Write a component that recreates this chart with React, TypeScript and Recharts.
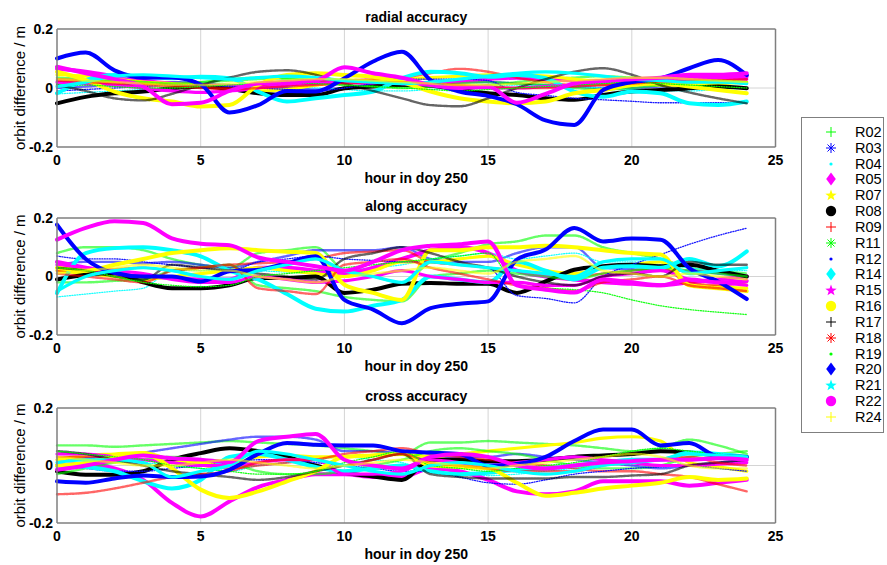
import React from 'react'
import { LineChart, Line, XAxis, YAxis, ReferenceLine } from 'recharts'

const HOURS = [0, 1, 2, 3, 4, 5, 6, 7, 8, 9, 10, 11, 12, 13, 14, 15, 16, 17, 18, 19, 20, 21, 22, 23, 24]
const X_TICKS = [0, 5, 10, 15, 20, 25]
const Y_TICKS = [-0.2, 0, 0.2]
const GRID_X = [5, 10, 15, 20]

const SATS = ['R02', 'R03', 'R04', 'R05', 'R07', 'R08', 'R09', 'R11', 'R12', 'R14', 'R15', 'R16', 'R17', 'R18', 'R19', 'R20', 'R21', 'R22', 'R24']
const COLORS = ['#00ff00', '#0000ff', '#00ffff', '#ff00ff', '#ffff00', '#000000', '#ff0000', '#00ff00', '#0000ff', '#00ffff', '#ff00ff', '#ffff00', '#000000', '#ff0000', '#00ff00', '#0000ff', '#00ffff', '#ff00ff', '#ffff00']
const MARKERS = ['+', '*', '.', 'd', 'p', 'o', '+', '*', '.', 'd', 'p', 'o', '+', '*', '.', 'd', 'p', 'o', '+']

// radial (m), one value per hour
const radR02 = [0.035, 0.03, 0.025, 0.02, 0.018,  0.02, 0.025, 0.03, 0.035, 0.03,  0.025, 0.02, 0.015, 0.01, 0.005,  0.01, 0.02, 0.03, 0.035, 0.04,  0.035, 0.03, 0.025, 0.02, 0.015]
const radR03 = [0.0, 0.005, 0.01, 0.015, 0.02,  0.015, 0.01, 0.005, 0.0, -0.005,  0.0, 0.005, 0.01, 0.015, 0.02,  0.02, 0.015, 0.01, 0.005, 0.0,  0.0, 0.005, 0.01, 0.015, 0.02]
const radR04 = [-0.02, -0.015, -0.01, -0.005, 0.0,  0.005, 0.01, 0.01, 0.005, 0.0,  -0.005, -0.01, -0.01, -0.005, 0.0,  0.005, 0.01, 0.01, 0.005, 0.0,  -0.005, -0.01, -0.01, -0.005, 0.0]
const radR05 = [0.065, 0.055, 0.04, 0.025, 0.015,  0.01, 0.005, 0.01, 0.02, 0.025,  0.02, 0.015, 0.01, 0.015, 0.02,  0.03, 0.035, 0.03, 0.025, 0.02,  0.02, 0.025, 0.03, 0.035, 0.04]
const radR07 = [0.045, 0.04, 0.03, 0.02, 0.015,  0.01, 0.0, -0.01, -0.005, 0.01,  0.02, 0.025, 0.03, 0.035, 0.04,  0.045, 0.045, 0.04, 0.03, 0.02,  0.015, 0.01, 0.01, 0.015, 0.02]
const radR08 = [-0.052, -0.03, -0.018, -0.012, -0.001,  0.005, -0.003, -0.018, -0.024, -0.024,  -0.001, 0.005, 0.01, 0.008, -0.007,  -0.018, -0.024, -0.035, -0.04, -0.024,  -0.012, -0.007, -0.001, 0.005, -0.001]
const radR09 = [0.03, 0.025, 0.02, 0.015, 0.01,  0.005, 0.0, 0.005, 0.01, 0.02,  0.025, 0.03, 0.035, 0.05, 0.065,  0.055, 0.035, 0.02, 0.01, 0.01,  0.015, 0.02, 0.025, 0.03, 0.03]
const radR11 = [0.015, 0.02, 0.025, 0.02, 0.015,  0.02, 0.03, 0.035, 0.03, 0.02,  0.01, 0.005, 0.0, 0.005, 0.015,  0.02, 0.015, 0.01, 0.0, -0.005,  0.0, 0.01, 0.02, 0.025, 0.02]
const radR12 = [-0.01, -0.005, 0.0, 0.005, 0.01,  0.01, 0.005, 0.0, -0.005, -0.01,  0.0, 0.015, 0.03, 0.03, 0.03,  0.025, -0.015, -0.025, -0.035, -0.04,  -0.045, -0.05, -0.05, -0.05, -0.05]
const radR14 = [-0.018, 0.027, 0.044, 0.038, 0.033,  0.038, 0.033, -0.012, -0.046, -0.035,  -0.024, -0.012, 0.033, 0.055, 0.05,  0.038, 0.044, 0.033, -0.012, -0.03,  -0.012, -0.018, -0.052, -0.058, -0.046]
const radR15 = [0.02, 0.015, 0.01, 0.0, -0.01,  -0.015, -0.01, 0.0, 0.01, 0.015,  0.02, 0.02, 0.015, 0.01, 0.005,  0.0, 0.0, 0.005, 0.01, 0.02,  0.025, 0.03, 0.035, 0.035, 0.03]
const radR16 = [0.055, 0.027, -0.012, -0.035, -0.046,  -0.063, -0.058, 0.01, 0.044, 0.05,  0.044, 0.038, 0.02, -0.012, -0.035,  -0.046, -0.052, -0.046, -0.018, -0.007,  0.01, 0.016, 0.005, -0.007, -0.018]
const radR17 = [0.01, -0.01, -0.035, -0.042, -0.02,  0.01, 0.035, 0.055, 0.06, 0.045,  0.015, -0.01, -0.035, -0.058, -0.062,  -0.035, 0.0, 0.03, 0.055, 0.067,  0.045, 0.01, -0.015, -0.035, -0.052]
const radR18 = [0.025, 0.02, 0.015, 0.01, 0.005,  0.0, -0.005, 0.0, 0.005, 0.01,  0.015, 0.02, 0.02, 0.015, 0.01,  0.005, 0.0, 0.0, 0.005, 0.01,  0.015, 0.02, 0.02, 0.025, 0.03]
const radR19 = [0.01, 0.01, 0.005, 0.0, 0.0,  0.005, 0.01, 0.015, 0.02, 0.015,  0.01, 0.005, 0.0, -0.005, -0.01,  -0.005, 0.0, 0.005, 0.01, 0.015,  0.02, 0.015, 0.01, 0.005, 0.0]
const radR20 = [0.1, 0.12, 0.06, 0.035, 0.036,  0.012, -0.083, -0.058, -0.01, -0.012,  0.033, 0.09, 0.123, 0.027, -0.012,  -0.027, -0.055, -0.11, -0.125, -0.007,  0.02, 0.033, 0.067, 0.095, 0.044]
const radR21 = [0.005, 0.02, 0.04, 0.045, 0.04,  0.035, 0.03, 0.035, 0.04, 0.035,  0.025, 0.02, 0.015, 0.02, 0.03,  0.04, 0.05, 0.055, 0.05, 0.04,  0.03, 0.025, 0.02, 0.02, 0.015]
const radR22 = [0.072, 0.05, 0.03, 0.005, -0.055,  -0.05, -0.01, 0.015, 0.02, 0.025,  0.07, 0.05, 0.035, 0.01, 0.0,  0.005, -0.05, -0.02, 0.015, 0.025,  0.03, 0.035, 0.045, 0.045, 0.05]
const radR24 = [0.03, 0.025, 0.02, 0.015, 0.01,  0.01, 0.015, 0.02, 0.025, 0.03,  0.03, 0.025, 0.02, 0.015, 0.01,  0.01, 0.015, 0.02, 0.025, 0.03,  0.035, 0.035, 0.03, 0.025, 0.02]

// along-track (m)
const alR02 = [0.08, 0.1, 0.1, 0.09, 0.06,  0.04, 0.03, 0.08, 0.09, 0.1,  0.02, 0.0, -0.02, 0.05, 0.08,  0.11, 0.12, 0.14, 0.14, 0.1,  0.08, 0.06, 0.03, 0.02, 0.01]
const alR03 = [0.04, 0.05, 0.05, 0.045, 0.05,  0.04, 0.03, 0.05, 0.07, 0.09,  0.09, 0.09, 0.1, 0.06, 0.05,  0.05, 0.08, 0.1, 0.1, 0.03,  0.025, 0.02, 0.02, 0.01, 0.0]
const alR04 = [-0.07, -0.06, -0.05, -0.04, 0.02,  0.02, 0.025, 0.02, 0.015, 0.01,  0.02, 0.03, 0.04, 0.06, 0.07,  0.08, 0.06, 0.07, 0.08, 0.05,  0.05, 0.04, 0.03, 0.02, 0.02]
const alR05 = [0.05, 0.03, 0.01, 0.0, -0.005,  -0.01, -0.01, 0.03, 0.03, 0.02,  0.01, 0.03, 0.06, 0.09, 0.1,  0.08, 0.02, 0.0, -0.01, -0.02,  -0.025, -0.03, -0.02, -0.01, 0.0]
const alR07 = [0.02, 0.01, 0.0, -0.01, 0.0,  0.01, 0.02, 0.03, 0.02, 0.01,  0.0, 0.02, 0.05, 0.05, 0.06,  0.07, 0.04, 0.02, 0.01, 0.03,  0.04, 0.05, -0.03, -0.035, -0.04]
const alR08 = [-0.01, 0.006, 0.012, -0.02, -0.04,  -0.04, -0.03, -0.005, -0.005, 0.0,  -0.056, -0.045, -0.025, -0.022, -0.025,  -0.025, -0.056, -0.017, 0.023, 0.035,  0.04, 0.035, 0.04, 0.02, 0.0]
const alR09 = [0.02, 0.02, 0.025, 0.03, 0.02,  0.03, 0.04, 0.045, 0.05, 0.06,  0.08, 0.085, 0.09, 0.05, 0.04,  0.03, 0.02, 0.01, 0.0, 0.01,  0.02, 0.03, -0.02, -0.03, -0.02]
const alR11 = [-0.02, -0.02, -0.015, -0.01, 0.02,  0.03, 0.04, -0.03, -0.04, -0.05,  -0.07, -0.08, -0.085, 0.0, 0.01,  0.02, 0.01, 0.0, -0.01, 0.01,  0.02, 0.03, 0.02, 0.01, 0.0]
const alR12 = [0.07, 0.06, 0.06, 0.05, 0.04,  0.03, 0.02, 0.05, 0.06, 0.07,  0.06, 0.055, 0.05, 0.05, 0.04,  0.03, -0.065, -0.075, -0.09, 0.0,  0.04, 0.075, 0.11, 0.14, 0.165]
const alR14 = [-0.057, 0.08, 0.097, 0.1, 0.09,  0.069, 0.02, -0.01, -0.06, -0.11,  -0.12, -0.1, -0.08, 0.0, -0.01,  -0.02, 0.05, 0.02, -0.01, 0.03,  0.035, 0.03, 0.06, 0.035, 0.086]
const alR15 = [0.04, 0.03, 0.02, 0.01, -0.01,  -0.02, -0.02, 0.0, -0.01, -0.02,  -0.015, 0.0, 0.02, 0.0, -0.01,  -0.02, -0.02, -0.03, -0.03, 0.0,  0.01, 0.02, -0.01, -0.02, -0.03]
const alR16 = [0.03, 0.02, 0.04, 0.06, 0.08,  0.09, 0.097, 0.09, 0.085, 0.08,  -0.028, -0.056, -0.08, 0.09, 0.09,  0.1, 0.1, 0.105, 0.1, 0.09,  0.08, 0.075, -0.03, -0.04, -0.05]
const alR17 = [0.03, 0.02, 0.0, -0.01, 0.04,  0.03, 0.02, 0.01, 0.0, -0.01,  0.06, 0.08, 0.1, 0.08, 0.05,  0.03, 0.0, -0.02, -0.03, 0.0,  0.01, 0.0, 0.05, 0.04, 0.04]
const alR18 = [0.01, 0.0, -0.01, -0.02, 0.02,  0.03, 0.04, -0.04, -0.05, -0.06,  0.04, 0.05, 0.06, 0.03, 0.01,  -0.01, -0.03, -0.04, -0.05, -0.02,  -0.01, 0.0, -0.03, -0.04, -0.05]
const alR19 = [0.03, 0.02, 0.0, -0.02, -0.03,  -0.035, -0.03, 0.0, 0.01, 0.02,  0.03, 0.04, 0.05, 0.06, 0.07,  0.08, -0.03, -0.04, -0.045, -0.056,  -0.08, -0.1, -0.113, -0.122, -0.13]
const alR20 = [0.177, 0.06, 0.012, 0.0, 0.0,  -0.017, 0.018, 0.023, 0.046, 0.069,  -0.08, -0.113, -0.16, -0.108, -0.093,  -0.085, 0.058, 0.092, 0.166, 0.12,  0.13, 0.126, 0.029, -0.017, -0.077]
const alR21 = [-0.05, 0.0, 0.02, 0.03, 0.02,  0.0, -0.01, 0.02, 0.04, 0.06,  0.02, 0.0, -0.02, 0.05, 0.04,  0.03, 0.02, 0.01, 0.0, 0.05,  0.06, 0.06, 0.01, 0.02, 0.03]
const alR22 = [0.126, 0.166, 0.189, 0.183, 0.13,  0.112, 0.107, 0.065, 0.05, 0.035,  0.02, 0.05, 0.09, 0.105, 0.11,  0.12, -0.03, -0.045, -0.055, -0.01,  -0.02, -0.03, -0.01, -0.02, -0.015]
const alR24 = [0.01, 0.02, 0.03, 0.04, 0.03,  0.02, 0.02, 0.0, -0.01, -0.02,  0.0, 0.01, 0.02, 0.03, 0.02,  0.01, 0.05, 0.06, 0.07, 0.02,  0.01, 0.0, 0.01, 0.0, -0.01]

// cross-track (m)
const crR02 = [0.07, 0.07, 0.065, 0.07, 0.075,  0.08, 0.085, 0.08, 0.075, 0.07,  0.06, 0.05, 0.04, 0.08, 0.08,  0.085, 0.08, 0.075, 0.07, 0.06,  0.05, 0.06, 0.09, 0.07, 0.04]
const crR03 = [0.02, 0.025, 0.035, 0.045, 0.06,  0.075, 0.09, 0.1, 0.1, 0.09,  0.05, 0.05, 0.04, 0.02, 0.03,  0.03, 0.04, 0.03, 0.02, 0.01,  0.0, -0.01, 0.0, 0.01, 0.02]
const crR04 = [0.02, 0.02, 0.015, 0.01, 0.0,  -0.01, -0.02, 0.0, 0.01, 0.02,  0.03, 0.02, 0.01, -0.02, -0.03,  -0.035, -0.03, -0.02, -0.01, 0.0,  0.01, 0.02, 0.0, -0.01, -0.02]
const crR05 = [0.0, 0.005, -0.01, -0.05, -0.13,  -0.177, -0.125, -0.075, -0.05, -0.03,  -0.03, -0.04, -0.04, -0.01, -0.02,  -0.05, -0.09, -0.1, -0.09, -0.055,  -0.055, -0.055, -0.07, -0.06, -0.05]
const crR07 = [0.02, 0.035, 0.04, 0.045, 0.02,  0.01, 0.005, 0.03, 0.035, 0.03,  0.03, 0.035, 0.04, 0.03, 0.04,  0.05, 0.06, 0.07, 0.08, 0.095,  0.1, 0.085, 0.01, -0.005, -0.02]
const crR08 = [-0.02, -0.032, -0.032, -0.02, 0.02,  0.043, 0.06, 0.05, 0.03, 0.0,  -0.025, -0.038, -0.05, 0.02, 0.02,  0.015, 0.015, 0.02, 0.03, 0.035,  0.04, 0.05, 0.045, 0.035, 0.03]
const crR09 = [0.03, 0.03, 0.025, 0.02, 0.01,  0.0, -0.01, 0.0, 0.01, 0.02,  0.04, 0.05, 0.06, 0.04, 0.03,  0.02, 0.01, 0.0, -0.01, -0.02,  -0.02, -0.03, -0.04, -0.065, -0.09]
const crR11 = [-0.03, -0.01, 0.01, 0.02, 0.03,  0.02, 0.01, -0.02, -0.03, -0.03,  -0.02, 0.0, 0.02, 0.05, 0.06,  0.05, 0.04, 0.02, 0.0, -0.01,  -0.01, 0.0, 0.03, 0.04, 0.05]
const crR12 = [0.0, -0.01, -0.02, -0.02, -0.01,  0.0, 0.01, 0.02, 0.02, 0.01,  0.0, -0.01, -0.02, -0.02, -0.04,  -0.06, -0.065, -0.05, -0.03, -0.02,  -0.01, -0.005, 0.0, -0.01, -0.02]
const crR14 = [0.0, -0.005, -0.02, -0.055, -0.08,  -0.05, 0.03, 0.04, 0.02, -0.005,  -0.02, -0.01, 0.0, -0.02, -0.03,  -0.025, -0.015, -0.01, 0.0, 0.01,  0.02, 0.02, 0.045, 0.04, 0.03]
const crR15 = [0.04, 0.04, 0.03, 0.02, 0.01,  0.0, 0.0, 0.01, 0.02, 0.02,  -0.03, -0.03, -0.02, 0.02, 0.01,  0.0, 0.01, 0.02, 0.03, 0.02,  0.01, 0.0, 0.0, 0.005, 0.01]
const crR16 = [0.0, 0.01, 0.03, 0.043, -0.01,  -0.084, -0.113, -0.09, -0.055, -0.02,  0.03, 0.035, 0.04, 0.0, -0.005,  -0.01, -0.06, -0.105, -0.095, -0.08,  -0.07, -0.06, -0.04, -0.05, -0.045]
const crR17 = [0.05, 0.04, 0.02, 0.0, -0.02,  -0.03, -0.04, -0.05, -0.04, -0.02,  0.0, 0.02, 0.04, -0.03, -0.04,  -0.045, -0.045, -0.045, -0.04, -0.04,  -0.035, -0.03, 0.0, 0.01, 0.02]
const crR18 = [-0.1, -0.095, -0.08, -0.06, -0.04,  -0.03, -0.02, 0.01, 0.02, 0.02,  0.0, 0.02, 0.04, 0.01, 0.0,  -0.01, -0.02, -0.02, -0.02, 0.0,  0.01, 0.02, 0.03, 0.01, 0.0]
const crR19 = [0.05, 0.04, 0.03, 0.02, 0.0,  -0.01, -0.02, -0.03, -0.03, -0.02,  0.01, 0.03, 0.05, 0.0, -0.01,  -0.02, -0.01, 0.0, 0.01, 0.03,  0.05, 0.06, 0.05, 0.04, 0.03]
const crR20 = [-0.055, -0.06, -0.045, -0.035, -0.04,  -0.038, -0.015, 0.04, 0.078, 0.072,  0.07, 0.07, 0.05, 0.045, 0.04,  0.0, 0.005, 0.03, 0.085, 0.125,  0.125, 0.07, 0.078, 0.032, 0.03]
const crR21 = [0.01, 0.02, 0.02, 0.01, -0.04,  -0.02, 0.0, 0.05, 0.04, 0.02,  0.0, -0.02, -0.03, 0.0, 0.01,  0.0, -0.02, -0.03, -0.02, 0.0,  0.01, 0.02, 0.04, 0.035, 0.03]
const crR22 = [-0.015, 0.0, 0.02, 0.035, 0.025,  0.02, 0.012, 0.085, 0.1, 0.11,  0.02, 0.0, -0.01, 0.03, 0.04,  0.03, 0.0, -0.01, 0.0, 0.01,  0.015, 0.02, 0.02, 0.025, 0.02]
const crR24 = [0.03, 0.02, 0.01, 0.0, 0.0,  0.01, 0.02, 0.01, 0.0, -0.01,  0.0, 0.01, 0.02, 0.01, 0.0,  -0.01, 0.0, 0.01, 0.02, 0.03,  0.04, 0.03, 0.0, -0.01, -0.01]

const FRAME = '#7f7f7f'
const GRID = '#d4d4d4'
const FONT = "'Liberation Sans', Arial, Helvetica, sans-serif"

function buildRows(series: Record<string, number[]>) {
  return HOURS.map((h, i) => {
    const row: Record<string, number> = { h }
    SATS.forEach((s) => {
      row[s] = series[s][i]
    })
    return row
  })
}

const radialRows = buildRows({
  R02: radR02, R03: radR03, R04: radR04, R05: radR05, R07: radR07, R08: radR08, R09: radR09,
  R11: radR11, R12: radR12, R14: radR14, R15: radR15, R16: radR16, R17: radR17, R18: radR18,
  R19: radR19, R20: radR20, R21: radR21, R22: radR22, R24: radR24,
})
const alongRows = buildRows({
  R02: alR02, R03: alR03, R04: alR04, R05: alR05, R07: alR07, R08: alR08, R09: alR09,
  R11: alR11, R12: alR12, R14: alR14, R15: alR15, R16: alR16, R17: alR17, R18: alR18,
  R19: alR19, R20: alR20, R21: alR21, R22: alR22, R24: alR24,
})
const crossRows = buildRows({
  R02: crR02, R03: crR03, R04: crR04, R05: crR05, R07: crR07, R08: crR08, R09: crR09,
  R11: crR11, R12: crR12, R14: crR14, R15: crR15, R16: crR16, R17: crR17, R18: crR18,
  R19: crR19, R20: crR20, R21: crR21, R22: crR22, R24: crR24,
})

// how each matlab marker type looks when drawn densely along a line
function lineStyle(marker: string) {
  if (marker === 'd' || marker === 'o') return { strokeWidth: 4, strokeOpacity: 1 }
  if (marker === 'p') return { strokeWidth: 3.2, strokeOpacity: 1 }
  if (marker === '.') return { strokeWidth: 1.3, strokeOpacity: 0.9, strokeDasharray: '1 1.5' }
  return { strokeWidth: 2.4, strokeOpacity: 0.6, strokeDasharray: '2 1' }
}

const tickFont = { fill: '#000', fontSize: 14, fontWeight: 700 }

interface PanelProps {
  title: string
  rows: Record<string, number>[]
  top: number
  height: number
  marginTop: number
  marginBottom: number
}

function Panel({ title, rows, top, height, marginTop, marginBottom }: PanelProps) {
  return (
    <div style={{ position: 'absolute', left: 0, top }}>
      <LineChart width={887} height={height} data={rows} margin={{ top: marginTop, right: 111.5, bottom: marginBottom, left: 12 }}>
        <XAxis
          xAxisId="x"
          dataKey="h"
          type="number"
          domain={[0, 25]}
          ticks={X_TICKS}
          interval={0}
          height={40}
          tickSize={0}
          tickMargin={8}
          tickLine={false}
          axisLine={{ stroke: FRAME, strokeWidth: 1.5 }}
          tick={tickFont}
          label={{ value: 'hour in doy 250', position: 'insideBottom', offset: 4.5, fill: '#000', fontSize: 14, fontWeight: 700 }}
        />
        <XAxis xAxisId="xIn" dataKey="h" type="number" domain={[0, 25]} ticks={X_TICKS} interval={0} mirror tick={false} axisLine={false} tickSize={5} tickLine={{ stroke: FRAME }} />
        <XAxis xAxisId="xTop" orientation="top" dataKey="h" type="number" domain={[0, 25]} ticks={X_TICKS} interval={0} mirror tick={false} tickSize={5} tickLine={{ stroke: FRAME }} axisLine={{ stroke: FRAME, strokeWidth: 1.5 }} />
        <YAxis
          yAxisId="y"
          type="number"
          domain={[-0.2, 0.2]}
          ticks={Y_TICKS}
          interval={0}
          width={45}
          tickSize={0}
          tickMargin={4}
          tickLine={false}
          axisLine={{ stroke: FRAME, strokeWidth: 1.5 }}
          tick={tickFont}
          label={{ value: 'orbit difference / m', angle: -90, position: 'insideLeft', offset: 8, fill: '#000', fontSize: 15, style: { textAnchor: 'middle' } }}
        />
        <YAxis yAxisId="yIn" type="number" domain={[-0.2, 0.2]} ticks={Y_TICKS} interval={0} mirror tick={false} axisLine={false} tickSize={5} tickLine={{ stroke: FRAME }} />
        <YAxis yAxisId="yRight" orientation="right" type="number" domain={[-0.2, 0.2]} ticks={Y_TICKS} interval={0} mirror tick={false} tickSize={5} tickLine={{ stroke: FRAME }} axisLine={{ stroke: FRAME, strokeWidth: 1.5 }} />
        {GRID_X.map((v) => (
          <ReferenceLine key={v} xAxisId="x" yAxisId="y" x={v} stroke={GRID} />
        ))}
        <ReferenceLine xAxisId="x" yAxisId="y" y={0} stroke={GRID} />
        <ReferenceLine
          xAxisId="x"
          yAxisId="y"
          y={0.2}
          stroke="none"
          label={{ value: title, position: 'top', offset: 7.5, fill: '#000', fontSize: 14, fontWeight: 700 }}
        />
        {SATS.map((s, i) => (
          <Line
            key={s}
            xAxisId="x"
            yAxisId="y"
            dataKey={s}
            type="monotone"
            stroke={COLORS[i]}
            {...lineStyle(MARKERS[i])}
            strokeLinecap="round"
            dot={false}
            activeDot={false}
            isAnimationActive={false}
          />
        ))}
      </LineChart>
    </div>
  )
}

function Marker({ type, color }: { type: string; color: string }) {
  const c = 8
  if (type === '+') {
    return (
      <g stroke={color} strokeWidth={1}>
        <line x1={c - 5} y1={c} x2={c + 5} y2={c} />
        <line x1={c} y1={c - 5} x2={c} y2={c + 5} />
      </g>
    )
  }
  if (type === '*') {
    return (
      <g stroke={color} strokeWidth={1}>
        <line x1={c - 5} y1={c} x2={c + 5} y2={c} />
        <line x1={c} y1={c - 5} x2={c} y2={c + 5} />
        <line x1={c - 3.5} y1={c - 3.5} x2={c + 3.5} y2={c + 3.5} />
        <line x1={c - 3.5} y1={c + 3.5} x2={c + 3.5} y2={c - 3.5} />
      </g>
    )
  }
  if (type === '.') return <circle cx={c} cy={c} r={1.6} fill={color} />
  if (type === 'o') return <circle cx={c} cy={c} r={5.2} fill={color} />
  if (type === 'd') {
    return <polygon points={`${c},${c - 6.5} ${c + 4.8},${c} ${c},${c + 6.5} ${c - 4.8},${c}`} fill={color} />
  }
  const pts: string[] = []
  for (let k = 0; k < 10; k++) {
    const a = (-90 + k * 36) * (Math.PI / 180)
    const r = k % 2 === 0 ? 6 : 2.4
    pts.push(`${c + r * Math.cos(a)},${c + 0.5 + r * Math.sin(a)}`)
  }
  return <polygon points={pts.join(' ')} fill={color} />
}

function LegendBox() {
  return (
    <div
      style={{
        position: 'absolute',
        left: 801,
        top: 117,
        width: 83,
        height: 316,
        border: `1px solid ${FRAME}`,
        background: '#fff',
        boxSizing: 'border-box',
      }}
    >
      {SATS.map((s, i) => {
        const cy = 14 + i * 15.83
        return (
          <div key={s} style={{ position: 'absolute', left: 0, top: cy - 8, width: 83, height: 16 }}>
            <svg width={16} height={16} style={{ position: 'absolute', left: 21, top: 0 }}>
              <Marker type={MARKERS[i]} color={COLORS[i]} />
            </svg>
            <span style={{ position: 'absolute', left: 53, top: 0, lineHeight: '16px', fontSize: 14.5, color: '#000' }}>{s}</span>
          </div>
        )
      })}
    </div>
  )
}

export default function App() {
  return (
    <div style={{ position: 'relative', width: 887, height: 565, background: '#fff', fontFamily: FONT, overflow: 'hidden' }}>
      <style>{'body{margin:0}'}</style>
      <Panel title="radial accuracy" rows={radialRows} top={0} height={190} marginTop={29} marginBottom={3} />
      <Panel title="along accuracy" rows={alongRows} top={190} height={190} marginTop={28} marginBottom={5} />
      <Panel title="cross accuracy" rows={crossRows} top={380} height={185} marginTop={28} marginBottom={2} />
      <LegendBox />
    </div>
  )
}
